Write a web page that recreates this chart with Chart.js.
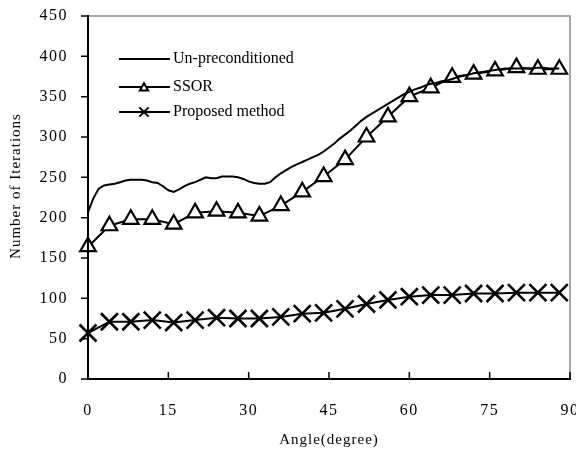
<!DOCTYPE html>
<html><head><meta charset="utf-8">
<script src="https://cdn.jsdelivr.net/npm/chart.js@4/dist/chart.umd.min.js"></script>
<style>html,body{margin:0;padding:0;background:#fff;}</style>
</head><body>
<canvas id="c" width="576" height="460"></canvas>
<script>
// ---- data ----
const unpreAngles = [0,1,2,3,4,5,6,7,8,9,10,11,12,13,14,15,16,17,18,19,20,21,22,23,24,25,26,27,28,29,30,31,32,33,34,35,36,37,38,39,40,41,42,43,44,45,46,47,48,49,50,51,52,53,54,55,56,57,58,59,60,61,62,63,64,65,66,67,68,69,70,71,72,73,74,75,76,77,78,79,80,81,82,83,84,85,86,87,88];
const unpreValues = [207,224,236,240,241,242,244,246,247,247,247,246,244,243,239,234,232,235,239,242,244,247,250,249,249,251,251,251,250,248,245,243,242,242,244,250,255,259,263,266,269,272,275,278,282,287,292,298,303,308,314,320,325,329,333,337,341,345,349,353,356,359,361,364,366,367,369,370,372,374,376,377,379,380,381,382,383,384,385,385,385,385,385,385,386,386,385,385,385];
const markerAngles = [0,4,8,12,16,20,24,28,32,36,40,44,48,52,56,60,64,68,72,76,80,84,88];
const ssorValues = [164,190,198,198,192,206,208,206,202,215,232,251,272,300,325,350,361,374,378,382,386,384,384];
const proposedValues = [57,71,71,73,70,73,76,75,75,77,81,82,87,93,98,102,104,104,106,106,107,107,107];
const xTicks = [0,15,30,45,60,75,90];
const yTicks = [0,50,100,150,200,250,300,350,400,450];
const seriesNames = ['Un-preconditioned','SSOR','Proposed method'];
const xTitle = 'Angle(degree)';
const yTitle = 'Number of Iterations';

const SERIF = '"Liberation Serif", "Times New Roman", serif';
const pts = (xs, ys) => xs.map((x, i) => ({x: x, y: ys[i]}));

const frame = {
  id: 'frame',
  beforeDraw(chart) { chart.ctx.letterSpacing = '1.5px'; },
  afterDatasetsDraw(chart) {
    const ctx = chart.ctx, a = chart.chartArea;
    const xs = chart.scales.x, ys = chart.scales.y;
    ctx.save();
    ctx.letterSpacing = '0px';
    ctx.lineCap = 'butt';
    ctx.strokeStyle = '#8a8a8a'; ctx.lineWidth = 1.5;
    ctx.beginPath();
    ctx.moveTo(a.left, a.top); ctx.lineTo(a.right, a.top); ctx.lineTo(a.right, a.bottom);
    ctx.stroke();
    ctx.strokeStyle = '#000'; ctx.lineWidth = 2;
    ctx.beginPath();
    ctx.moveTo(a.left, a.top - 1); ctx.lineTo(a.left, a.bottom); ctx.lineTo(a.right + 1, a.bottom);
    ctx.stroke();
    ctx.lineWidth = 1.5;
    ctx.beginPath();
    yTicks.forEach(v => { const p = ys.getPixelForValue(v); ctx.moveTo(a.left - 7, p); ctx.lineTo(a.left, p); });
    xTicks.forEach(v => { const p = xs.getPixelForValue(v); ctx.moveTo(p, a.bottom); ctx.lineTo(p, a.bottom - 7); });
    ctx.stroke();
    ctx.restore();
  },
  afterDraw(chart) {
    const ctx = chart.ctx, a = chart.chartArea;
    ctx.save();
    ctx.fillStyle = '#000';
    ctx.font = '15px ' + SERIF;
    ctx.letterSpacing = '1px';
    ctx.textAlign = 'center'; ctx.textBaseline = 'middle';
    ctx.fillText(xTitle, (a.left + a.right) / 2, 440);
    ctx.save();
    ctx.translate(16, 186); ctx.rotate(-Math.PI / 2);
    ctx.fillText(yTitle, 0, 0);
    ctx.restore();
    const rows = [59, 87, 112];
    const styles = [
      null,
      {pointStyle: 'triangle', radius: 4.8, rotation: 0, borderWidth: 1.5},
      {pointStyle: 'crossRot', radius: 6.5, rotation: 0, borderWidth: 2}
    ];
    ctx.letterSpacing = '0px';
    ctx.font = '16px ' + SERIF;
    ctx.textAlign = 'left';
    seriesNames.forEach((name, i) => {
      const y = rows[i];
      ctx.strokeStyle = '#000'; ctx.lineWidth = 2;
      ctx.beginPath(); ctx.moveTo(119, y); ctx.lineTo(170, y); ctx.stroke();
      if (styles[i]) {
        ctx.fillStyle = '#fff';
        Chart.helpers.drawPoint(ctx, styles[i], 144, y + (i === 1 ? 1 : 0));
        ctx.fillStyle = '#000';
      }
      ctx.fillText(name, 173, y);
    });
    ctx.restore();
  }
};

new Chart(document.getElementById('c'), {
  type: 'line',
  data: {
    datasets: [
      {label: seriesNames[0], data: pts(unpreAngles, unpreValues), borderColor: '#000', borderWidth: 2,
       pointRadius: 0, tension: 0, clip: false, order: 0},
      {label: seriesNames[1], data: pts(markerAngles, ssorValues), borderColor: '#000', borderWidth: 2,
       pointStyle: 'triangle', pointRadius: 9, pointBackgroundColor: '#fff', pointBorderColor: '#000',
       pointBorderWidth: 2.2, tension: 0, clip: false, order: 1},
      {label: seriesNames[2], data: pts(markerAngles, proposedValues), borderColor: '#000', borderWidth: 2,
       pointStyle: 'crossRot', pointRadius: 12, pointBorderColor: '#000', pointBorderWidth: 2.6,
       tension: 0, clip: false, order: 2}
    ]
  },
  options: {
    responsive: false, animation: false, devicePixelRatio: 1,
    layout: {autoPadding: false, padding: {top: 16, right: 6, left: 0, bottom: 0}},
    plugins: {legend: {display: false}, tooltip: {enabled: false}},
    scales: {
      x: {type: 'linear', min: 0, max: 90,
          afterBuildTicks: s => { s.ticks = xTicks.map(v => ({value: v})); },
          afterFit: s => { s.height = 81; s.paddingLeft = 0; s.paddingRight = 0; s.paddingTop = 0; s.paddingBottom = 0; },
          ticks: {font: {family: SERIF, size: 16}, color: '#000', padding: 22, maxRotation: 0, autoSkip: false},
          grid: {display: false, drawTicks: false}, border: {display: false}},
      y: {min: 0, max: 450,
          afterBuildTicks: s => { s.ticks = yTicks.map(v => ({value: v})); },
          afterFit: s => { s.width = 88; s.paddingTop = 0; s.paddingBottom = 0; s.paddingLeft = 0; s.paddingRight = 0; },
          ticks: {font: {family: SERIF, size: 16}, color: '#000', padding: 20, autoSkip: false},
          grid: {display: false, drawTicks: false}, border: {display: false}}
    }
  },
  plugins: [frame]
});
</script>
</body></html>
